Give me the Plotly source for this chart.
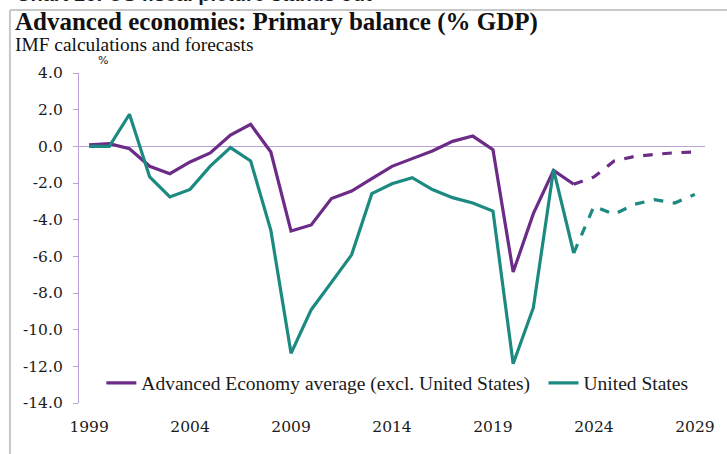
import plotly.graph_objects as go

# Primary balance, % of GDP (IMF estimates; 2023 onward are forecasts)
years = list(range(1999, 2030))
adv_ex_us = [0.08, 0.15, -0.13, -1.09, -1.49, -0.85, -0.36, 0.62, 1.20, -0.31,
             -4.62, -4.29, -2.85, -2.44, -1.76, -1.09, -0.67, -0.25, 0.27, 0.56,
             -0.18, -6.86, -3.67, -1.31, -2.07, -1.67, -0.80, -0.55, -0.44, -0.35,
             -0.31]
united_states = [0.00, 0.00, 1.75, -1.67, -2.76, -2.35, -1.08, -0.07, -0.80, -4.58,
                 -11.29, -8.91, -7.42, -5.92, -2.58, -2.04, -1.71, -2.36, -2.80, -3.09,
                 -3.53, -11.86, -8.80, -1.27, -5.82, -3.27, -3.71, -3.16, -2.91, -3.09,
                 -2.62]
forecast_from = 2023

y_ticks = [4, 2, 0, -2, -4, -6, -8, -10, -12, -14]
y_tick_labels = ["4.0", "2.0", "0.0", "-2.0", "-4.0", "-6.0", "-8.0", "-10.0", "-12.0", "-14.0"]
x_ticks = [1999, 2004, 2009, 2014, 2019, 2024, 2029]

# (name, values, colour, legend id)
series = [
    ("Advanced Economy average (excl. United States)", adv_ex_us, "#6b2b87", "legend"),
    ("United States", united_states, "#1c8a80", "legend2"),
]

SERIF = "'Liberation Serif', 'Times New Roman', serif"
NUM = "'DejaVu Serif', serif"

fig = go.Figure()
for name, vals, color, leg in series:
    hist_x = [y for y in years if y <= forecast_from]
    hist_y = [v for y, v in zip(years, vals) if y <= forecast_from]
    fc_x = [y for y in years if y >= forecast_from]
    fc_y = [v for y, v in zip(years, vals) if y >= forecast_from]
    fig.add_trace(go.Scatter(x=hist_x, y=hist_y, mode="lines", name=name, legend=leg,
                             line=dict(color=color, width=3.2), legendgroup=name))
    fig.add_trace(go.Scatter(x=fc_x, y=fc_y, mode="lines", name=name, showlegend=False,
                             legend=leg, line=dict(color=color, width=3.2, dash="dash"),
                             legendgroup=name))

axis_col = "#b9a2d6"
legend_style = dict(orientation="h", y=0.06, xanchor="left", yanchor="middle",
                    font=dict(family=SERIF, size=19.5, color="#1a1a1a"),
                    bgcolor="rgba(0,0,0,0)", itemwidth=30)

fig.update_layout(
    width=727, height=454,
    margin=dict(l=79, r=18, t=73, b=51),
    paper_bgcolor="white", plot_bgcolor="white",
    showlegend=True,
    legend=dict(x=0.0357, **legend_style),
    legend2=dict(x=0.742, **legend_style),
    xaxis=dict(range=[1998.5, 2029.5], tickmode="array", tickvals=x_ticks,
               showgrid=False, showline=False, zeroline=False, ticks="",
               ticklabelstandoff=12,
               tickfont=dict(family=NUM, size=15.5, color="#1a1a1a")),
    yaxis=dict(range=[-14, 4], tickmode="array", tickvals=y_ticks, ticktext=y_tick_labels,
               showgrid=False, showline=True, linecolor=axis_col, linewidth=1.3,
               zeroline=True, zerolinecolor=axis_col, zerolinewidth=1.3,
               ticks="outside", ticklen=5, tickcolor=axis_col, tickwidth=1.3,
               ticklabelstandoff=7,
               tickfont=dict(family=NUM, size=15.5, color="#1a1a1a")),
    shapes=[
        dict(type="line", xref="paper", yref="paper", x0=-0.1103, x1=1.1, y0=1.1909, y1=1.1909,
             line=dict(color="#c8c8c8", width=2)),
        dict(type="line", xref="paper", yref="paper", x0=-0.1103, x1=-0.1103, y0=1.1909, y1=-0.2,
             line=dict(color="#c8c8c8", width=2)),
    ],
    annotations=[
        dict(text="<b>Chart 16: US fiscal picture stands out</b>", xref="paper", yref="paper",
             x=-0.104, y=(403 - 7) / 330, xanchor="left", yanchor="bottom", showarrow=False,
             font=dict(family="'Liberation Sans', Arial, sans-serif", size=20, color="#1a1a1a")),
        dict(text="<b>Advanced economies: Primary balance (% GDP)</b>", xref="paper", yref="paper",
             x=-0.106, y=(403 - 22) / 330, xanchor="left", yanchor="middle", showarrow=False,
             font=dict(family=SERIF, size=25, color="#111111")),
        dict(text="IMF calculations and forecasts", xref="paper", yref="paper",
             x=-0.106, y=(403 - 44) / 330, xanchor="left", yanchor="middle", showarrow=False,
             font=dict(family=SERIF, size=19.4, color="#111111")),
        dict(text="%", xref="paper", yref="paper",
             x=(103 - 79) / 630, y=(403 - 60) / 330, xanchor="center", yanchor="middle",
             showarrow=False, font=dict(family="'DejaVu Sans', sans-serif", size=11, color="#1a1a1a")),
    ],
)

fig.write_html("out.html")
